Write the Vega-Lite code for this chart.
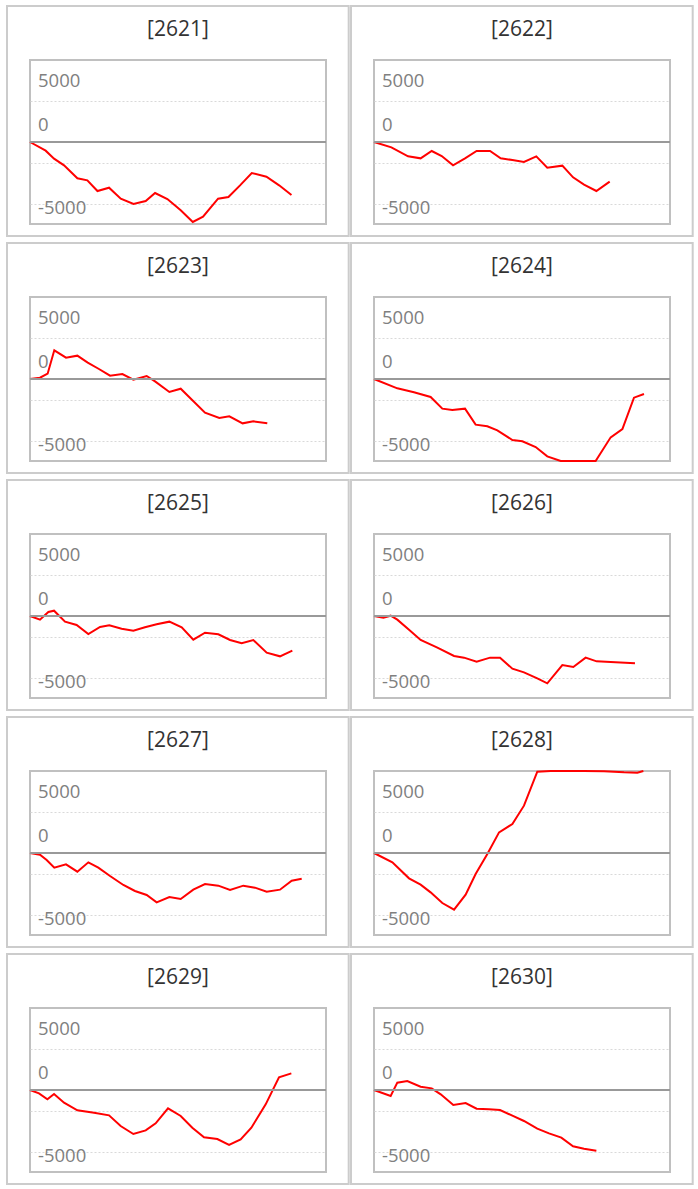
{
  "$schema": "https://vega.github.io/schema/vega-lite/v6.json",
  "padding": {"left": 4, "top": 4, "right": 5, "bottom": 0},
  "background": "white",
  "data": {"values": [
    {"code":"[2621]","x":0,"y":0},{"code":"[2621]","x":1.27,"y":-1057},{"code":"[2621]","x":1.95,"y":-2033},{"code":"[2621]","x":2.76,"y":-2846},{"code":"[2621]","x":3.84,"y":-4431},{"code":"[2621]","x":4.65,"y":-4675},{"code":"[2621]","x":5.47,"y":-5976},{"code":"[2621]","x":6.41,"y":-5569},{"code":"[2621]","x":7.36,"y":-6911},{"code":"[2621]","x":8.39,"y":-7561},{"code":"[2621]","x":9.38,"y":-7195},{"code":"[2621]","x":10.14,"y":-6220},{"code":"[2621]","x":11.14,"y":-6951},{"code":"[2621]","x":12.22,"y":-8333},{"code":"[2621]","x":13.2,"y":-9756},{"code":"[2621]","x":14.03,"y":-9106},{"code":"[2621]","x":15.25,"y":-6911},{"code":"[2621]","x":16.09,"y":-6707},{"code":"[2621]","x":17.03,"y":-5285},{"code":"[2621]","x":17.98,"y":-3780},{"code":"[2621]","x":19.17,"y":-4228},{"code":"[2621]","x":20.2,"y":-5285},{"code":"[2621]","x":21.2,"y":-6463},
    {"code":"[2622]","x":0,"y":0},{"code":"[2622]","x":1.41,"y":-650},{"code":"[2622]","x":2.76,"y":-1748},{"code":"[2622]","x":3.78,"y":-1992},{"code":"[2622]","x":4.68,"y":-1098},{"code":"[2622]","x":5.49,"y":-1707},{"code":"[2622]","x":6.41,"y":-2846},{"code":"[2622]","x":7.38,"y":-1992},{"code":"[2622]","x":8.32,"y":-1098},{"code":"[2622]","x":9.41,"y":-1098},{"code":"[2622]","x":10.27,"y":-1992},{"code":"[2622]","x":11.22,"y":-2195},{"code":"[2622]","x":12.16,"y":-2439},{"code":"[2622]","x":13.16,"y":-1748},{"code":"[2622]","x":14.05,"y":-3130},{"code":"[2622]","x":15.27,"y":-2886},{"code":"[2622]","x":16.14,"y":-4309},{"code":"[2622]","x":17.03,"y":-5203},{"code":"[2622]","x":18.03,"y":-5976},{"code":"[2622]","x":19.11,"y":-4837},
    {"code":"[2623]","x":0,"y":0},{"code":"[2623]","x":0.81,"y":163},{"code":"[2623]","x":1.43,"y":650},{"code":"[2623]","x":1.97,"y":3496},{"code":"[2623]","x":2.92,"y":2602},{"code":"[2623]","x":3.84,"y":2846},{"code":"[2623]","x":4.68,"y":1992},{"code":"[2623]","x":5.59,"y":1220},{"code":"[2623]","x":6.49,"y":407},{"code":"[2623]","x":7.49,"y":610},{"code":"[2623]","x":8.38,"y":-81},{"code":"[2623]","x":9.46,"y":366},{"code":"[2623]","x":10.14,"y":-285},{"code":"[2623]","x":11.3,"y":-1585},{"code":"[2623]","x":12.22,"y":-1179},{"code":"[2623]","x":14.19,"y":-4106},{"code":"[2623]","x":15.35,"y":-4756},{"code":"[2623]","x":16.16,"y":-4553},{"code":"[2623]","x":17.24,"y":-5407},{"code":"[2623]","x":18.11,"y":-5163},{"code":"[2623]","x":19.24,"y":-5407},
    {"code":"[2624]","x":0,"y":0},{"code":"[2624]","x":1.89,"y":-1138},{"code":"[2624]","x":3.24,"y":-1626},{"code":"[2624]","x":4.59,"y":-2195},{"code":"[2624]","x":5.54,"y":-3618},{"code":"[2624]","x":6.35,"y":-3780},{"code":"[2624]","x":7.38,"y":-3618},{"code":"[2624]","x":8.24,"y":-5569},{"code":"[2624]","x":9.19,"y":-5772},{"code":"[2624]","x":10,"y":-6260},{"code":"[2624]","x":11.22,"y":-7439},{"code":"[2624]","x":12.03,"y":-7602},{"code":"[2624]","x":13.11,"y":-8293},{"code":"[2624]","x":14.05,"y":-9431},{"code":"[2624]","x":15.14,"y":-10000},{"code":"[2624]","x":17.97,"y":-10000},{"code":"[2624]","x":19.19,"y":-7114},{"code":"[2624]","x":20.14,"y":-6098},{"code":"[2624]","x":21.08,"y":-2276},{"code":"[2624]","x":21.89,"y":-1829},
    {"code":"[2625]","x":0,"y":0},{"code":"[2625]","x":0.81,"y":-447},{"code":"[2625]","x":1.49,"y":488},{"code":"[2625]","x":1.95,"y":650},{"code":"[2625]","x":2.84,"y":-691},{"code":"[2625]","x":3.78,"y":-1098},{"code":"[2625]","x":4.73,"y":-2195},{"code":"[2625]","x":5.68,"y":-1341},{"code":"[2625]","x":6.43,"y":-1138},{"code":"[2625]","x":7.43,"y":-1545},{"code":"[2625]","x":8.38,"y":-1789},{"code":"[2625]","x":9.32,"y":-1382},{"code":"[2625]","x":10.27,"y":-1016},{"code":"[2625]","x":11.3,"y":-691},{"code":"[2625]","x":12.3,"y":-1382},{"code":"[2625]","x":13.24,"y":-2886},{"code":"[2625]","x":14.19,"y":-2033},{"code":"[2625]","x":15.27,"y":-2236},{"code":"[2625]","x":16.22,"y":-2927},{"code":"[2625]","x":17.16,"y":-3333},{"code":"[2625]","x":18.11,"y":-2927},{"code":"[2625]","x":19.19,"y":-4472},{"code":"[2625]","x":20.27,"y":-4919},{"code":"[2625]","x":21.27,"y":-4228},
    {"code":"[2626]","x":0,"y":0},{"code":"[2626]","x":0.76,"y":-203},{"code":"[2626]","x":1.35,"y":41},{"code":"[2626]","x":1.89,"y":-447},{"code":"[2626]","x":2.84,"y":-1667},{"code":"[2626]","x":3.78,"y":-2927},{"code":"[2626]","x":5.14,"y":-3862},{"code":"[2626]","x":6.49,"y":-4878},{"code":"[2626]","x":7.3,"y":-5081},{"code":"[2626]","x":8.32,"y":-5569},{"code":"[2626]","x":9.41,"y":-5081},{"code":"[2626]","x":10.22,"y":-5081},{"code":"[2626]","x":11.22,"y":-6423},{"code":"[2626]","x":12.16,"y":-6870},{"code":"[2626]","x":13.24,"y":-7602},{"code":"[2626]","x":14.05,"y":-8211},{"code":"[2626]","x":15.27,"y":-5976},{"code":"[2626]","x":16.16,"y":-6220},{"code":"[2626]","x":17.16,"y":-5081},{"code":"[2626]","x":18.05,"y":-5528},{"code":"[2626]","x":19.19,"y":-5610},{"code":"[2626]","x":21.16,"y":-5772},
    {"code":"[2627]","x":0,"y":0},{"code":"[2627]","x":0.81,"y":-203},{"code":"[2627]","x":1.35,"y":-854},{"code":"[2627]","x":1.97,"y":-1789},{"code":"[2627]","x":2.92,"y":-1382},{"code":"[2627]","x":3.84,"y":-2276},{"code":"[2627]","x":4.73,"y":-1138},{"code":"[2627]","x":5.54,"y":-1789},{"code":"[2627]","x":6.49,"y":-2805},{"code":"[2627]","x":7.57,"y":-3902},{"code":"[2627]","x":8.51,"y":-4634},{"code":"[2627]","x":9.46,"y":-5122},{"code":"[2627]","x":10.27,"y":-6016},{"code":"[2627]","x":11.3,"y":-5366},{"code":"[2627]","x":12.22,"y":-5610},{"code":"[2627]","x":13.24,"y":-4472},{"code":"[2627]","x":14.19,"y":-3780},{"code":"[2627]","x":15.27,"y":-3984},{"code":"[2627]","x":16.22,"y":-4512},{"code":"[2627]","x":17.3,"y":-3984},{"code":"[2627]","x":18.24,"y":-4228},{"code":"[2627]","x":19.19,"y":-4715},{"code":"[2627]","x":20.27,"y":-4472},{"code":"[2627]","x":21.22,"y":-3374},{"code":"[2627]","x":22.03,"y":-3130},
    {"code":"[2628]","x":0,"y":0},{"code":"[2628]","x":1.49,"y":-1138},{"code":"[2628]","x":2.84,"y":-3089},{"code":"[2628]","x":3.78,"y":-3862},{"code":"[2628]","x":4.59,"y":-4797},{"code":"[2628]","x":5.54,"y":-6098},{"code":"[2628]","x":6.49,"y":-6911},{"code":"[2628]","x":7.43,"y":-5081},{"code":"[2628]","x":8.24,"y":-2561},{"code":"[2628]","x":9.19,"y":-122},{"code":"[2628]","x":10.14,"y":2520},{"code":"[2628]","x":11.22,"y":3537},{"code":"[2628]","x":12.16,"y":5772},{"code":"[2628]","x":13.24,"y":9919},{"code":"[2628]","x":14.32,"y":10000},{"code":"[2628]","x":17.03,"y":10000},{"code":"[2628]","x":18.65,"y":9959},{"code":"[2628]","x":20.27,"y":9837},{"code":"[2628]","x":21.35,"y":9797},{"code":"[2628]","x":21.84,"y":10000},
    {"code":"[2629]","x":0,"y":0},{"code":"[2629]","x":0.73,"y":-407},{"code":"[2629]","x":1.41,"y":-1138},{"code":"[2629]","x":1.95,"y":-488},{"code":"[2629]","x":2.76,"y":-1545},{"code":"[2629]","x":3.84,"y":-2480},{"code":"[2629]","x":5.19,"y":-2764},{"code":"[2629]","x":6.41,"y":-3089},{"code":"[2629]","x":7.35,"y":-4390},{"code":"[2629]","x":8.38,"y":-5366},{"code":"[2629]","x":9.38,"y":-4919},{"code":"[2629]","x":10.19,"y":-4065},{"code":"[2629]","x":11.19,"y":-2236},{"code":"[2629]","x":12.22,"y":-3171},{"code":"[2629]","x":13.16,"y":-4593},{"code":"[2629]","x":14.11,"y":-5772},{"code":"[2629]","x":15.19,"y":-5976},{"code":"[2629]","x":16.14,"y":-6707},{"code":"[2629]","x":17.08,"y":-6016},{"code":"[2629]","x":17.95,"y":-4593},{"code":"[2629]","x":19.11,"y":-1748},{"code":"[2629]","x":20.19,"y":1545},{"code":"[2629]","x":21.19,"y":2033},
    {"code":"[2630]","x":0,"y":0},{"code":"[2630]","x":1.35,"y":-732},{"code":"[2630]","x":1.89,"y":894},{"code":"[2630]","x":2.7,"y":1098},{"code":"[2630]","x":3.78,"y":407},{"code":"[2630]","x":4.68,"y":203},{"code":"[2630]","x":5.41,"y":-528},{"code":"[2630]","x":6.43,"y":-1829},{"code":"[2630]","x":7.43,"y":-1585},{"code":"[2630]","x":8.32,"y":-2276},{"code":"[2630]","x":9.32,"y":-2358},{"code":"[2630]","x":10.22,"y":-2439},{"code":"[2630]","x":11.22,"y":-3130},{"code":"[2630]","x":12.16,"y":-3780},{"code":"[2630]","x":13.24,"y":-4715},{"code":"[2630]","x":14.19,"y":-5285},{"code":"[2630]","x":15.19,"y":-5813},{"code":"[2630]","x":16.14,"y":-6870},{"code":"[2630]","x":17.03,"y":-7154},{"code":"[2630]","x":18.03,"y":-7398}
  ]},
  "facet": {"field": "code", "type": "nominal", "header": {"labels": false, "title": null, "labelFontSize": 0, "labelPadding": 0, "labelColor": "transparent"}},
  "columns": 2,
  "spacing": {"row": 73, "column": 48},
  "bounds": "flush",
  "spec": {
    "width": 296,
    "height": 164,
    "layer": [
      {
        "mark": {"type": "line", "color": "#ff0000", "strokeWidth": 2},
        "encoding": {
          "x": {"field": "x", "type": "quantitative", "scale": {"domain": [0, 24]}, "axis": null},
          "y": {"field": "y", "type": "quantitative", "scale": {"domain": [-10000, 10000]},
            "axis": {
              "values": [-7500, -5000, -2500, 2500, 5000, 7500],
              "title": null, "domain": false, "ticks": false, "labels": false,
              "grid": true, "gridColor": "#d9d9d9", "gridDash": [2, 2], "gridWidth": 1
            }
          }
        }
      },
      {
        "transform": [{"filter": "datum.x == 0"}],
        "mark": {"type": "rule", "color": "#999999", "strokeWidth": 2},
        "encoding": {
          "y": {"datum": 0, "type": "quantitative", "scale": {"domain": [-10000, 10000]}}
        }
      },
      {
        "transform": [{"filter": "datum.x == 0"}],
        "mark": {"type": "rect", "filled": false, "stroke": "#cccccc", "strokeWidth": 2},
        "encoding": {
          "x": {"datum": -1.865, "type": "quantitative", "scale": {"domain": [0, 24]}},
          "x2": {"datum": 25.84},
          "y": {"datum": 16585, "type": "quantitative", "scale": {"domain": [-10000, 10000]}},
          "y2": {"datum": -11463}
        }
      },
      {
        "transform": [{"filter": "datum.x == 0"}],
        "mark": {"type": "text", "font": "Open Sans", "fontSize": 21, "color": "#333333", "align": "center", "baseline": "alphabetic"},
        "encoding": {
          "x": {"datum": 12, "type": "quantitative", "scale": {"domain": [0, 24]}},
          "y": {"datum": 12930, "type": "quantitative", "scale": {"domain": [-10000, 10000]}},
          "text": {"field": "code", "type": "nominal"}
        }
      },
      {
        "transform": [{"filter": "datum.x == 0"}],
        "mark": {"type": "text", "text": "5000", "font": "Open Sans", "fontSize": 18.5, "color": "#808080", "align": "left", "baseline": "alphabetic", "dx": 8, "dy": 6},
        "encoding": {
          "x": {"datum": 0, "type": "quantitative", "scale": {"domain": [0, 24]}},
          "y": {"datum": 7500, "type": "quantitative", "scale": {"domain": [-10000, 10000]}}
        }
      },
      {
        "transform": [{"filter": "datum.x == 0"}],
        "mark": {"type": "text", "text": "0", "font": "Open Sans", "fontSize": 18.5, "color": "#808080", "align": "left", "baseline": "alphabetic", "dx": 8, "dy": 9.5},
        "encoding": {
          "x": {"datum": 0, "type": "quantitative", "scale": {"domain": [0, 24]}},
          "y": {"datum": 2500, "type": "quantitative", "scale": {"domain": [-10000, 10000]}}
        }
      },
      {
        "transform": [{"filter": "datum.x == 0"}],
        "mark": {"type": "text", "text": "-5000", "font": "Open Sans", "fontSize": 18.5, "color": "#808080", "align": "left", "baseline": "alphabetic", "dx": 8, "dy": 10.5},
        "encoding": {
          "x": {"datum": 0, "type": "quantitative", "scale": {"domain": [0, 24]}},
          "y": {"datum": -7500, "type": "quantitative", "scale": {"domain": [-10000, 10000]}}
        }
      }
    ]
  },
  "config": {
    "font": "Open Sans",
    "view": {"stroke": "#c0c0c0", "strokeWidth": 2},
    "header": {"labels": false, "title": null, "labelFontSize": 0, "labelPadding": 0},
    "headerFacet": {"labels": false, "title": null, "labelFontSize": 0, "labelPadding": 0}
  }
}
